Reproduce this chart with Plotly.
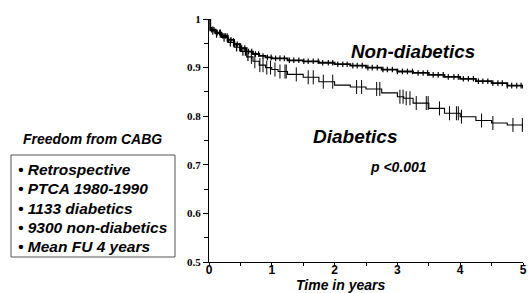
import numpy as np
import plotly.graph_objects as go

# Kaplan-Meier estimates
nd_t = [0, 0.02, 0.1, 0.2, 0.3, 0.4, 0.5, 0.6, 0.7, 0.8, 0.9, 1.0, 1.25, 1.5, 1.75, 2.0,
        2.25, 2.5, 2.75, 3.0, 3.25, 3.5, 3.75, 4.0, 4.25, 4.5, 4.75, 5.0]
nd_s = [1.0, 0.978, 0.972, 0.965, 0.957, 0.948, 0.940, 0.933, 0.928, 0.924, 0.921, 0.919,
        0.915, 0.913, 0.910, 0.907, 0.904, 0.900, 0.896, 0.892, 0.889, 0.885, 0.881, 0.877,
        0.872, 0.868, 0.863, 0.857]

d_t = [0, 0.02, 0.1, 0.2, 0.3, 0.4, 0.5, 0.6, 0.7, 0.8, 0.9, 1.0, 1.1, 1.25, 1.5, 1.75,
       2.0, 2.25, 2.5, 2.75, 3.0, 3.1, 3.25, 3.5, 3.75, 4.0, 4.25, 4.5, 4.75, 5.0]
d_s = [1.0, 0.976, 0.970, 0.962, 0.952, 0.942, 0.933, 0.922, 0.913, 0.905, 0.900, 0.896,
       0.892, 0.886, 0.880, 0.871, 0.864, 0.860, 0.856, 0.848, 0.840, 0.837, 0.827, 0.816,
       0.806, 0.799, 0.791, 0.786, 0.782, 0.774]

# censoring times
nd_cens = [0.04, 0.08, 0.13, 0.17, 0.22, 0.26, 0.31, 0.35, 0.41, 0.45, 0.52, 0.57, 0.63,
           0.68, 0.74, 0.79, 0.86, 0.93, 0.99, 1.06, 1.13, 1.2, 1.28, 1.35, 1.43, 1.51,
           1.58, 1.66, 1.74, 1.81, 1.9, 1.97, 2.05, 2.13, 2.2, 2.29, 2.36, 2.44, 2.53,
           2.6, 2.68, 2.77, 2.84, 2.92, 3.0, 3.08, 3.16, 3.24, 3.33, 3.41, 3.48, 3.57,
           3.65, 3.73, 3.81, 3.9, 3.97, 4.05, 4.13, 4.21, 4.29, 4.36, 4.44, 4.52, 4.6,
           4.67, 4.75, 4.82, 4.9, 4.97]
d_cens_small = [0.06, 0.12, 0.18, 0.24, 0.29, 0.34, 0.39, 0.44, 0.49, 0.54, 0.58, 0.62]
d_cens = [0.675, 0.73, 0.81, 0.86, 0.92, 0.98, 1.05, 1.13, 1.21, 1.23, 1.39, 1.58, 1.66,
          1.82, 1.97, 2.35, 2.43, 2.67, 2.72, 3.04, 3.09, 3.14, 3.20, 3.30, 3.46, 3.49,
          3.67, 3.83, 3.94, 3.97, 4.02, 4.34, 4.52, 4.84, 4.99]

y_ticks = [0.5, 0.6, 0.7, 0.8, 0.9, 1.0]
y_ticktext = ["0.5", "0.6", "0.7", "0.8", "0.9", "1"]
x_ticks = [0, 1, 2, 3, 4, 5]

box_lines = ["• Retrospective", "• PTCA 1980-1990", "• 1133 diabetics",
             "• 9300 non-diabetics", "• Mean FU 4 years"]


def step_at(ts, ss, q):
    idx = np.searchsorted(np.array(ts), np.array(q), side="right") - 1
    return list(np.array(ss)[idx])


W, H = 531, 293
L, R, T, B = 209, 8, 19, 31
PW, PH = W - L - R, H - T - B


def px(xp):
    return (xp - L) / PW


def py(yp):
    return (H - B - yp) / PH


fig = go.Figure()
fig.add_trace(go.Scatter(x=nd_t, y=nd_s, mode="lines", line=dict(color="black", width=1.8, shape="hv"),
                         showlegend=False, hoverinfo="skip"))
fig.add_trace(go.Scatter(x=d_t, y=d_s, mode="lines", line=dict(color="black", width=1.1, shape="hv"),
                         showlegend=False, hoverinfo="skip"))
fig.add_trace(go.Scatter(x=nd_cens, y=step_at(nd_t, nd_s, nd_cens), mode="markers",
                         marker=dict(symbol="line-ns", size=4, line=dict(color="black", width=1.2)),
                         showlegend=False, hoverinfo="skip"))
fig.add_trace(go.Scatter(x=d_cens_small, y=step_at(d_t, d_s, d_cens_small), mode="markers",
                         marker=dict(symbol="line-ns", size=6, line=dict(color="black", width=1.2)),
                         showlegend=False, hoverinfo="skip"))
fig.add_trace(go.Scatter(x=d_cens, y=step_at(d_t, d_s, d_cens), mode="markers",
                         marker=dict(symbol="line-ns", size=10, line=dict(color="black", width=1)),
                         showlegend=False, hoverinfo="skip"))

bi = dict(family="Liberation Sans", color="black", weight="bold", style="italic")

annotations = [
    dict(x=3.25, y=0.933, xref="x", yref="y", text="Non-diabetics",
         font=dict(size=18.8, **bi)),
    dict(x=2.33, y=0.758, xref="x", yref="y", text="Diabetics",
         font=dict(size=19, **bi)),
    dict(x=3.01, y=0.696, xref="x", yref="y", text="p <0.001",
         font=dict(size=14, **bi)),
    dict(x=px(340), y=py(285), xref="paper", yref="paper", text="Time in years",
         font=dict(size=14, **bi)),
    dict(x=px(92.5), y=py(139), xref="paper", yref="paper", text="Freedom from CABG",
         font=dict(size=14, **bi)),
]
for a in annotations:
    a.update(showarrow=False, xanchor="center", yanchor="middle")
line_y = [169.3, 189, 208.3, 227.3, 246]
for txt, yy in zip(box_lines, line_y):
    annotations.append(dict(x=px(16), y=py(yy), xref="paper", yref="paper", text=txt,
                            showarrow=False, xanchor="left", yanchor="middle", font=dict(size=15.5, **bi)))

fig.add_shape(type="rect", xref="paper", yref="paper", x0=px(11), x1=px(175), y0=py(257), y1=py(155),
              line=dict(color="#555555", width=1))

fig.update_layout(
    width=W, height=H, margin=dict(l=L, r=R, t=T, b=B, autoexpand=False),
    paper_bgcolor="white", plot_bgcolor="white",
    annotations=annotations,
    xaxis=dict(range=[0, 5], tickvals=x_ticks, showgrid=False, zeroline=False, automargin=False,
               showline=True, linecolor="black", linewidth=1.2, ticks="outside", ticklen=3,
               tickcolor="black", tickfont=dict(family="Liberation Sans", size=12, color="black", weight="bold"),
               minor=dict(dtick=0.5, ticks="outside", ticklen=3, tickcolor="black"),
               ticklabelstandoff=-7),
    yaxis=dict(range=[0.5, 1.0], tickvals=y_ticks, ticktext=y_ticktext, showgrid=False, zeroline=False,
               automargin=False,
               showline=True, linecolor="black", linewidth=1.2, ticks="outside", ticklen=5,
               tickcolor="black", tickfont=dict(family="Liberation Serif", size=11, color="black", weight="bold"),
               minor=dict(dtick=0.05, ticks="outside", ticklen=4, tickcolor="black")),
)

fig.write_html("out.html", config={"displayModeBar": False},
               post_script="document.body.style.margin='0';")
